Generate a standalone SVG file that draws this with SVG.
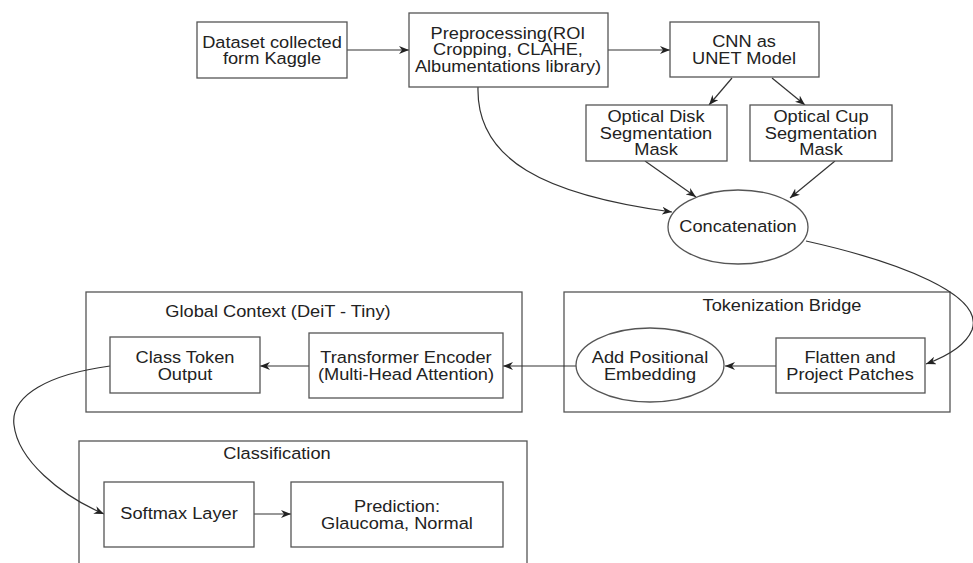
<svg xmlns="http://www.w3.org/2000/svg" width="973" height="563" viewBox="0 0 973 563">
<defs>
<style>
.box{fill:#fff;stroke:#555;stroke-width:1.3}
.grp{fill:none;stroke:#555;stroke-width:1.3}
.t{font-family:"Liberation Sans",Arial,sans-serif;font-size:15.7px;fill:#222;text-anchor:middle}
.c{fill:none;stroke:#333;stroke-width:1.2;marker-end:url(#ah)}
</style>
<marker id="ah" markerWidth="11" markerHeight="8" refX="10" refY="4" orient="auto" markerUnits="userSpaceOnUse">
<path d="M0,0 L10,4 L0,8 L3,4 z" fill="#222"/>
</marker>
</defs>
<rect width="973" height="563" fill="#fff"/>

<g id="group-global">
<rect class="grp" x="86" y="292" width="436" height="120"/>
<text class="t" transform="translate(278,0) scale(1.16,1)" x="0" y="317.5">Global Context (DeiT - Tiny)</text>
</g>
<g id="group-token">
<rect class="grp" x="564" y="292" width="386" height="120"/>
<text class="t" transform="translate(782,0) scale(1.16,1)" x="0" y="311.5">Tokenization Bridge</text>
</g>
<g id="group-class">
<rect class="grp" x="79" y="441" width="448" height="140"/>
<text class="t" transform="translate(277,0) scale(1.16,1)" x="0" y="459.5">Classification</text>
</g>

<g id="connectors">
<path class="c" d="M347,50 L409,50"/>
<path class="c" d="M608,50 L670,50"/>
<path class="c" d="M732,78 L709,105"/>
<path class="c" d="M772,78 L805,105"/>
<path class="c" d="M645,161 L696,197"/>
<path class="c" d="M835,161 L790,198"/>
<path class="c" d="M478,87 C476,160 545,195 672,212"/>
<path class="c" d="M806,241 C900,262 985,295 972,330 C965,347 945,357 926,364"/>
<path class="c" d="M776,366 L725,366"/>
<path class="c" d="M576,366 L503,366"/>
<path class="c" d="M309,366 L260,366"/>
<path class="c" d="M110,366 C50,374 10,395 14,425 C18,460 60,495 104,514"/>
<path class="c" d="M254,514 L291,514"/>
</g>

<g id="dataset">
<rect class="box" x="197" y="22" width="150" height="56"/>
<text class="t" transform="translate(272,0) scale(1.16,1)" x="0" y="48"><tspan x="0">Dataset collected</tspan><tspan x="0" dy="16.5">form Kaggle</tspan></text>
</g>
<g id="preprocessing">
<rect class="box" x="409" y="13" width="199" height="74"/>
<text class="t" transform="translate(508,0) scale(1.16,1)" x="0" y="39"><tspan x="0">Preprocessing(ROI</tspan><tspan x="0" dy="16.5">Cropping, CLAHE,</tspan><tspan x="0" dy="16.5">Albumentations library)</tspan></text>
</g>
<g id="cnn">
<rect class="box" x="670" y="22" width="149" height="55"/>
<text class="t" transform="translate(744,0) scale(1.16,1)" x="0" y="47.5"><tspan x="0">CNN as</tspan><tspan x="0" dy="16.5">UNET Model</tspan></text>
</g>
<g id="disk">
<rect class="box" x="586" y="105" width="141" height="56"/>
<text class="t" transform="translate(656,0) scale(1.16,1)" x="0" y="122.5"><tspan x="0">Optical Disk</tspan><tspan x="0" dy="16.5">Segmentation</tspan><tspan x="0" dy="16.5">Mask</tspan></text>
</g>
<g id="cup">
<rect class="box" x="750" y="105" width="142" height="56"/>
<text class="t" transform="translate(821,0) scale(1.16,1)" x="0" y="122.5"><tspan x="0">Optical Cup</tspan><tspan x="0" dy="16.5">Segmentation</tspan><tspan x="0" dy="16.5">Mask</tspan></text>
</g>
<g id="concatenation">
<ellipse class="box" cx="738" cy="227" rx="70" ry="37"/>
<text class="t" transform="translate(738,0) scale(1.16,1)" x="0" y="232.5">Concatenation</text>
</g>
<g id="flatten">
<rect class="box" x="776" y="338" width="149" height="55"/>
<text class="t" transform="translate(850,0) scale(1.16,1)" x="0" y="363.5"><tspan x="0">Flatten and</tspan><tspan x="0" dy="16.5">Project Patches</tspan></text>
</g>
<g id="positional">
<ellipse class="box" cx="650" cy="365" rx="74" ry="37"/>
<text class="t" transform="translate(650,0) scale(1.16,1)" x="0" y="363.5"><tspan x="0">Add Positional</tspan><tspan x="0" dy="16.5">Embedding</tspan></text>
</g>
<g id="transformer">
<rect class="box" x="309" y="333" width="194" height="65"/>
<text class="t" transform="translate(406,0) scale(1.16,1)" x="0" y="363.5"><tspan x="0">Transformer Encoder</tspan><tspan x="0" dy="16.5">(Multi-Head Attention)</tspan></text>
</g>
<g id="classtoken">
<rect class="box" x="110" y="337" width="150" height="56"/>
<text class="t" transform="translate(185,0) scale(1.16,1)" x="0" y="363.5"><tspan x="0">Class Token</tspan><tspan x="0" dy="16.5">Output</tspan></text>
</g>
<g id="softmax">
<rect class="box" x="104" y="482" width="150" height="65"/>
<text class="t" transform="translate(179,0) scale(1.16,1)" x="0" y="519.5">Softmax Layer</text>
</g>
<g id="prediction">
<rect class="box" x="291" y="482" width="212" height="65"/>
<text class="t" transform="translate(397,0) scale(1.16,1)" x="0" y="512.5"><tspan x="0">Prediction:</tspan><tspan x="0" dy="16.5">Glaucoma, Normal</tspan></text>
</g>
</svg>
